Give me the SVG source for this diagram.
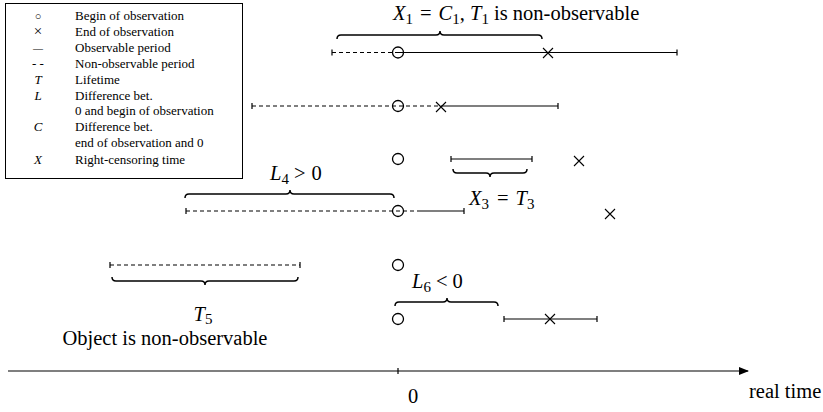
<svg xmlns="http://www.w3.org/2000/svg" width="823" height="412" viewBox="0 0 823 412">
<style>
text{font-family:"Liberation Serif","Tinos","DejaVu Serif",serif;fill:#000}
.lg{font-size:13px}
.big{font-size:20.5px}
.it{font-style:italic}
.sub{font-size:15px}
.obs{stroke:#000;stroke-width:1.2;fill:none}
.non{stroke:#000;stroke-width:1.2;fill:none;stroke-dasharray:4 3}
.tick{stroke:#000;stroke-width:1.2}
.circ{stroke:#000;stroke-width:1.3;fill:none}
.brace{stroke:#000;stroke-width:1.5;fill:none}
</style>
<defs>
<marker id="arr" markerWidth="10" markerHeight="8" refX="9" refY="4" orient="auto" markerUnits="userSpaceOnUse">
<path d="M0,0 L10,4 L0,8 Z" fill="#000"/>
</marker>
<g id="xm"><path d="M-5,-5 L5,5 M-5,5 L5,-5" stroke="#000" stroke-width="1.1" fill="none"/></g>
</defs>

<g id="legend">
<rect x="5.5" y="3.5" width="237" height="175" fill="#fff" stroke="#000" stroke-width="1"/>
<g class="lg">
<text x="38" y="20" text-anchor="middle" style="font-size:11px">○</text><text x="75" y="20">Begin of observation</text>
<text x="38" y="36" text-anchor="middle" style="font-size:15px">×</text><text x="75" y="36">End of observation</text>
<text x="38" y="52" text-anchor="middle" style="font-size:10px">—</text><text x="75" y="52">Observable period</text>
<text x="38" y="68" text-anchor="middle">- -</text><text x="75" y="68">Non-observable period</text>
<text x="38" y="84" text-anchor="middle" class="it">T</text><text x="75" y="84">Lifetime</text>
<text x="38" y="100" text-anchor="middle" class="it">L</text><text x="75" y="100">Difference bet.</text>
<text x="75" y="115">0 and begin of observation</text>
<text x="38" y="131" text-anchor="middle" class="it">C</text><text x="75" y="131">Difference bet.</text>
<text x="75" y="147">end of observation and 0</text>
<text x="38" y="164" text-anchor="middle" class="it">X</text><text x="75" y="164">Right-censoring time</text>
</g>
</g>

<g id="row1">
<path class="non" d="M332,52.5 H398"/>
<path class="tick" d="M332,49.5 V55.5 M677,49.5 V55.5"/>
<path class="obs" d="M398,52.5 H677"/>
<circle class="circ" cx="398" cy="52.5" r="5.5" fill="#fff"/>
<use href="#xm" x="548" y="53"/>
<path class="brace" d="M337,39 Q337,35 341,35 L436,35 Q440,35 440,31 Q440,35 444,35 L538,35 Q542,35 542,39"/>
<text class="big" x="393" y="20"><tspan class="it">X</tspan><tspan class="sub" dy="4">1</tspan><tspan dy="-4" dx="7">=</tspan><tspan class="it" dx="7">C</tspan><tspan class="sub" dy="4">1</tspan><tspan dy="-4">, </tspan><tspan class="it">T</tspan><tspan class="sub" dy="4">1</tspan><tspan dy="-4"> is non-observable</tspan></text>
</g>

<g id="row2">
<path class="non" d="M252,106 H441"/>
<path class="tick" d="M252,103 V109 M558,103 V109"/>
<path class="obs" d="M441,106 H558"/>
<circle class="circ" cx="398" cy="106" r="5.5"/>
<use href="#xm" x="441" y="107"/>
</g>

<g id="row3">
<circle class="circ" cx="398" cy="159" r="5.5"/>
<path class="obs" d="M451,159 H532"/>
<path class="tick" d="M451,156 V162 M532,156 V162"/>
<use href="#xm" x="579" y="161"/>
<path class="brace" d="M453,169 Q453,173 457,173 L486,173 Q490,173 490,177 Q490,173 494,173 L523,173 Q527,173 527,169"/>
<text class="big" x="469" y="205"><tspan class="it">X</tspan><tspan class="sub" dy="4">3</tspan><tspan dy="-4" dx="8">=</tspan><tspan class="it" dx="7">T</tspan><tspan class="sub" dy="4">3</tspan></text>
</g>

<g id="row4">
<path class="non" d="M186,211 H420"/>
<path class="obs" d="M420,211 H464"/>
<path class="tick" d="M186,208 V214 M464,208 V214"/>
<circle class="circ" cx="398" cy="211" r="5.5"/>
<use href="#xm" x="610" y="214"/>
<path class="brace" d="M185,198 Q185,194 189,194 L286,194 Q290,194 290,190 Q290,194 294,194 L390,194 Q394,194 394,198"/>
<text class="big" x="270" y="180"><tspan class="it">L</tspan><tspan class="sub" dy="4">4</tspan><tspan dy="-4" dx="5">&gt;</tspan><tspan dx="6">0</tspan></text>
</g>

<g id="row5">
<path class="non" d="M110,265 H300"/>
<path class="tick" d="M110,262 V268 M300,262 V268"/>
<circle class="circ" cx="398" cy="265" r="5.5"/>
<path class="brace" d="M112,277 Q112,281 116,281 L201,281 Q205,281 205,285 Q205,281 209,281 L294,281 Q298,281 298,277"/>
<text class="big" x="203" y="321" text-anchor="middle"><tspan class="it">T</tspan><tspan class="sub" dy="3">5</tspan></text>
<text class="big" x="165" y="345" text-anchor="middle">Object is non-observable</text>
</g>

<g id="row6">
<circle class="circ" cx="398" cy="319" r="5.5"/>
<path class="obs" d="M504,319 H597"/>
<path class="tick" d="M504,316 V322 M597,316 V322"/>
<use href="#xm" x="550" y="319"/>
<path class="brace" d="M395,306 Q395,302 399,302 L443,302 Q447,302 447,298 Q447,302 451,302 L494,302 Q498,302 498,306"/>
<text class="big" x="412" y="288"><tspan class="it">L</tspan><tspan class="sub" dy="4">6</tspan><tspan dy="-4" dx="5">&lt;</tspan><tspan dx="5">0</tspan></text>
</g>

<g id="connectors">
<path d="M8,371 H748" stroke="#000" stroke-width="1.2" marker-end="url(#arr)"/>
<path class="tick" d="M398,368 V374"/>
<text class="big" x="413" y="403" text-anchor="middle">0</text>
<text class="big" x="749" y="398">real time</text>
</g>
</svg>
